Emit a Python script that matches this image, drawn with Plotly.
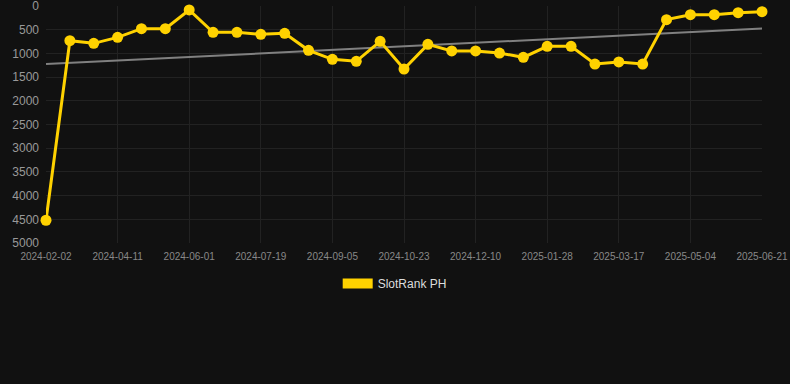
import numpy as np
import plotly.graph_objects as go

dates = ["2024-02-02", "2024-02-25", "2024-03-19", "2024-04-11", "2024-04-28", "2024-05-15",
         "2024-06-01", "2024-06-17", "2024-07-03", "2024-07-19", "2024-08-04", "2024-08-20",
         "2024-09-05", "2024-09-21", "2024-10-07", "2024-10-23", "2024-11-08", "2024-11-24",
         "2024-12-10", "2024-12-26", "2025-01-12", "2025-01-28", "2025-02-13", "2025-03-01",
         "2025-03-17", "2025-04-02", "2025-04-18", "2025-05-04", "2025-05-20", "2025-06-05",
         "2025-06-21"]
rank = [4520, 732, 788, 661, 478, 478, 84, 556, 556, 598, 577, 935, 1125, 1167, 745, 1329,
        809, 949, 949, 992, 1083, 851, 851, 1224, 1181, 1224, 288, 183, 183, 141, 120]
tick_labels = dates[::3]
y_ticks = list(range(0, 5001, 500))

idx = np.arange(len(rank))
slope, intercept = np.polyfit(idx, rank, 1)
trend = [intercept, intercept + slope * idx[-1]]

GOLD = "#FFD200"
fig = go.Figure()
fig.add_trace(go.Scatter(x=[dates[0], dates[-1]], y=trend, mode="lines",
                         line=dict(color="#808080", width=2), showlegend=False, hoverinfo="skip"))
fig.add_trace(go.Scatter(x=dates, y=rank, mode="lines+markers", name="SlotRank PH",
                         line=dict(color=GOLD, width=3), marker=dict(color=GOLD, size=11),
                         showlegend=False, cliponaxis=False))
fig.add_trace(go.Scatter(x=[None], y=[None], mode="lines", name="SlotRank PH",
                         line=dict(color=GOLD, width=10), showlegend=True))

fig.update_layout(
    width=790, height=384,
    paper_bgcolor="#111111", plot_bgcolor="#111111",
    margin=dict(l=46, r=28, t=6, b=141, autoexpand=False),
    font=dict(family="Liberation Sans, Arial, sans-serif", color="#888888"),
    showlegend=True,
    legend=dict(orientation="h", x=0.487, xanchor="center", y=-0.11, yanchor="top",
                font=dict(size=12, color="#dddddd"), bgcolor="rgba(0,0,0,0)"),
)
fig.update_xaxes(type="category", categoryorder="array", categoryarray=dates,
                 range=[0, len(dates) - 1], tickmode="array", tickvals=tick_labels,
                 ticktext=tick_labels, showgrid=True, gridcolor="#222222", gridwidth=1,
                 zeroline=False, showline=False, tickfont=dict(size=10, color="#888888"),
                 ticks="", ticklabelstandoff=6, ticklabeloverflow="allow")
fig.update_yaxes(range=[5000, 0], tickmode="array", tickvals=y_ticks,
                 showgrid=True, gridcolor="#222222", gridwidth=1, zeroline=False,
                 showline=False, tickfont=dict(size=12, color="#999999"), ticks="",
                 ticklabelstandoff=6, ticklabeloverflow="allow")

fig.write_html("out.html", config={"displayModeBar": False},
               post_script="document.body.style.margin='0';")
